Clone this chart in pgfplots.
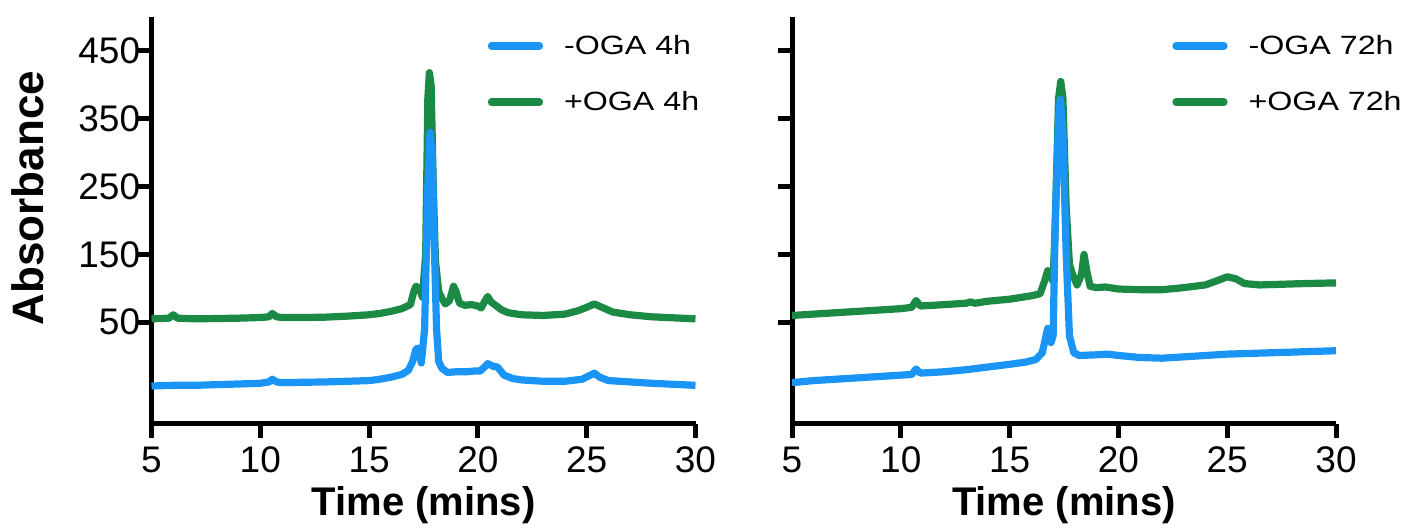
\documentclass[border=0pt]{standalone}
\usepackage{fontspec}
\setmainfont{Liberation Sans}
\newfontfamily\legfont[FakeStretch=1.22]{Liberation Sans}
\usepackage{pgfplots}
\pgfplotsset{compat=1.18}
\definecolor{cblue}{HTML}{1A95F5}
\definecolor{cgreen}{HTML}{1B8A45}

\pgfplotsset{
  chrom/.style={
    scale only axis, width=272pt, height=203.5pt,
    xmin=5, xmax=30, ymin=-100, ymax=500,
    axis lines=left,
    axis line style={line width=2.5pt, -},
    tick style={black, line width=2.5pt},
    tick align=outside, major tick length=7pt,
    xtick={5,10,...,30}, ytick={50,150,...,450},
    /pgf/number format/assume math mode=true,
    ticklabel style={font=\fontsize{18.5}{18.5}\selectfont},
    xticklabel style={inner sep=0pt, anchor=base, yshift=-17.5pt},
    yticklabel style={inner sep=0pt, anchor=east, xshift=1.5pt},
    xlabel={Time (mins)},
    xlabel style={font=\bfseries\fontsize{20}{20}\selectfont,
      at={(axis description cs:0.5,0)}, anchor=base, yshift=-46pt},
    every axis plot/.append style={line width=3.6pt, line join=round, no markers},
    reverse legend,
    legend cell align=left,
    legend image code/.code={\draw[#1, line cap=round] (0pt,0pt) -- (24pt,0pt);},
    legend style={draw=none, fill=none, inner sep=0pt,
      font=\legfont\fontsize{13.2}{13.2}\selectfont, row sep=17pt,
      nodes={inner sep=0pt}, column sep=10.5pt, anchor=north west},
  },
}

\begin{document}
\begin{tikzpicture}
\path[use as bounding box] (-75.75pt,-52.5pt) rectangle (625.25pt,212pt);

% left panel: 4h
\begin{axis}[chrom, at={(0pt,0pt)}, anchor=south west,
  ylabel={Absorbance},
  ylabel style={font=\bfseries\fontsize{22}{22}\selectfont,
    at={(axis description cs:-0.227,0.555)}, anchor=center, rotate=0},
  legend style={at={(axis description cs:0.6176,0.957)}}]
\addplot[cgreen] coordinates {
(5.0,55) (5.8,56) (6.0,61) (6.2,56) (7,55) (8,55.5) (9,56) (10,57)
(10.4,58) (10.55,63) (10.75,58) (11,57) (12,57) (13,57.5) (14,59)
(15,61) (15.5,63) (16,66) (16.5,70) (16.9,76) (17.05,95) (17.15,103)
(17.3,100) (17.45,87) (17.6,150) (17.7,380) (17.77,418) (17.85,400)
(17.95,250) (18.05,140) (18.2,95) (18.35,85) (18.5,77) (18.7,82)
(18.88,103) (19.0,95) (19.15,78) (19.4,75) (19.7,76) (20.0,74)
(20.15,71) (20.3,80) (20.45,88) (20.6,80) (20.85,74) (21.1,68)
(21.4,64) (22,61) (23,60) (24,62) (24.6,67) (25.0,72) (25.35,77)
(25.7,72) (26.2,65) (27,61) (28,58) (29,56.5) (30,55)
};
\addlegendentry{+OGA 4h}
\addplot[cblue] coordinates {
(5.0,-44) (6,-43) (7,-43) (8,-42) (9,-41) (10,-40) (10.4,-38)
(10.55,-34) (10.75,-38) (11,-39) (12,-38.5) (13,-38) (14,-37)
(15,-36) (15.5,-34) (16,-31) (16.5,-27) (16.8,-21) (17.0,-8)
(17.15,10) (17.25,12) (17.4,-10) (17.55,40) (17.7,250) (17.8,330)
(17.9,300) (18.0,160) (18.1,40) (18.2,-8) (18.35,-18) (18.6,-24)
(19,-23) (19.5,-23) (19.8,-22) (20.1,-22) (20.3,-16) (20.45,-11)
(20.7,-15) (20.9,-16) (21.2,-28) (21.6,-33) (22,-35) (23,-37)
(24,-37) (24.8,-34) (25.1,-29) (25.35,-25) (25.6,-31) (26,-36)
(27,-38) (28,-40) (29,-41.5) (30,-43)
};
\addlegendentry{-OGA 4h}
\end{axis}

% right panel: 72h
\begin{axis}[chrom, at={(320.25pt,0pt)}, anchor=south west,
  yticklabels={},
  legend style={at={(axis description cs:0.6985,0.957)}}]
\addplot[cgreen] coordinates {
(5.0,60) (6,62) (7,64) (8,66) (9,68) (10,70) (10.5,72) (10.7,82)
(10.9,74) (11.5,75) (12,76) (13,78) (13.2,80) (13.4,78) (14,81)
(15,84) (16,89) (16.4,92) (16.6,110) (16.75,126) (16.9,118)
(17.0,110) (17.1,200) (17.25,380) (17.35,405) (17.45,380) (17.6,220)
(17.75,135) (17.9,120) (18.1,105) (18.3,120) (18.42,150) (18.55,125)
(18.7,103) (19,101) (19.4,102) (20,99) (21,98) (22,98) (23,101)
(24,105) (24.6,112) (25.0,117) (25.4,114) (25.8,107) (26.5,105)
(27.5,106) (28.5,107) (30,108)
};
\addlegendentry{+OGA 72h}
\addplot[cblue] coordinates {
(5.0,-39) (6,-36) (7,-34) (8,-32) (9,-30) (10,-28) (10.5,-27)
(10.7,-19) (10.9,-25) (12,-23) (13,-20) (13.5,-18) (14,-16) (15,-12)
(15.7,-9) (16.2,-5) (16.5,5) (16.75,41) (16.9,20) (17.0,30)
(17.1,200) (17.25,350) (17.33,379) (17.45,330) (17.6,150) (17.75,30)
(17.95,5) (18.2,1) (19,2) (19.5,3) (20,1) (21,-2) (22,-3) (23,-1)
(24,1) (25,3) (26,4) (27,5) (28,6) (29,7) (30,8)
};
\addlegendentry{-OGA 72h}
\end{axis}
\end{tikzpicture}
\end{document}
